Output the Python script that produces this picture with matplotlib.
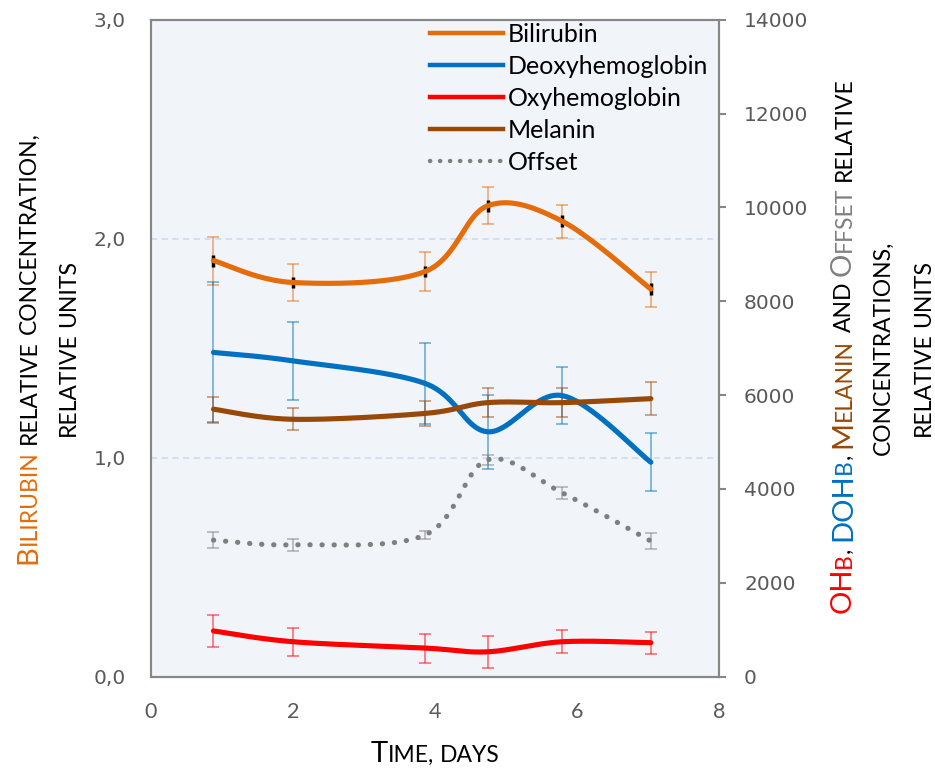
import numpy as np
import matplotlib
matplotlib.use('Agg')
import matplotlib.pyplot as plt
from matplotlib.lines import Line2D
from matplotlib.transforms import IdentityTransform
from matplotlib.ticker import FuncFormatter

# data
days = [0.88, 2.0, 3.86, 4.74, 5.79, 7.04]
bilirubin = [1.90, 1.80, 1.85, 2.15, 2.08, 1.77]
bilirubin_err = [0.11, 0.085, 0.087, 0.085, 0.075, 0.08]
bilirubin_mark = [0.027] * 6
deoxy = [6910, 6730, 6250, 5220, 5990, 4570]
deoxy_err = [1500, 830, 870, 790, 615, 620]
oxy = [975, 745, 610, 530, 745, 725]
oxy_err = [340, 295, 310, 340, 250, 235]
melanin = [5700, 5485, 5610, 5840, 5840, 5925]
melanin_err = [270, 235, 275, 305, 305, 350]
offset = [2910, 2810, 3020, 4620, 3920, 2890]
offset_err = [170, 130, 90, 100, 130, 170]

ORANGE = '#E46C0A'
BLUE = '#0070C0'
RED = '#FF0000'
BROWN = '#984807'
GRAY = '#7F7F7F'
FONT = 'Lato'
W, H = 935, 773
XLIM = (0, 8)
YL = (0, 3.0)
YR = (0, 14000)


def smooth(xs, ys, ylim, n=40):
    # excel style smoothed line (catmull-rom bezier in screen units)
    sx, sy = 568.0, 657.0
    p = np.column_stack([(np.array(xs) - XLIM[0]) / (XLIM[1] - XLIM[0]) * sx,
                         (np.array(ys) - ylim[0]) / (ylim[1] - ylim[0]) * sy])
    pts = np.vstack([p[0], p, p[-1]])
    t = np.linspace(0, 1, n)[:, None]
    out = []
    for i in range(1, len(pts) - 2):
        a, b = pts[i], pts[i + 1]
        c1 = a + (pts[i + 1] - pts[i - 1]) / 6
        c2 = b - (pts[i + 2] - pts[i]) / 6
        seg = (1 - t) ** 3 * a + 3 * (1 - t) ** 2 * t * c1 + 3 * (1 - t) * t ** 2 * c2 + t ** 3 * b
        out.append(seg if i == 1 else seg[1:])
    out = np.vstack(out)
    return (out[:, 0] / sx * (XLIM[1] - XLIM[0]) + XLIM[0],
            out[:, 1] / sy * (ylim[1] - ylim[0]) + ylim[0])


fig = plt.figure(figsize=(W / 100, H / 100), dpi=100)
ax = fig.add_axes([151 / W, 1 - 676.7 / H, 568 / W, 657 / H])
ax2 = ax.twinx()
ax.set_facecolor('#F1F4F9')
ax.set_zorder(1)
ax2.set_zorder(2)
ax2.patch.set_visible(False)

for g in [1.0, 2.0]:
    ax.axhline(g, color='#C6D9F0', lw=1.1, ls=(0, (4, 3)), zorder=0)

# bilirubin on the left axis
ax.errorbar(days, bilirubin, yerr=bilirubin_err, fmt='none', ecolor=ORANGE, alpha=0.5,
            elinewidth=1.3, capsize=4.5, capthick=1.3, zorder=2)
ax.errorbar(days, bilirubin, yerr=bilirubin_mark, fmt='none', ecolor='black',
            elinewidth=2.5, capsize=0, zorder=3)
bx, by = smooth(days, bilirubin, YL)
ax.plot(bx, by, color=ORANGE, lw=3.7, solid_capstyle='round', zorder=4)

# the rest on the right axis
right = [(deoxy, deoxy_err, BLUE), (oxy, oxy_err, RED),
         (melanin, melanin_err, BROWN), (offset, offset_err, GRAY)]
for vals, err, col in right:
    ax2.errorbar(days, vals, yerr=err, fmt='none', ecolor=col, alpha=0.5,
                 elinewidth=1.3, capsize=4.5, capthick=1.3, zorder=2)
for vals, err, col in right:
    sx_, sy_ = smooth(days, vals, YR)
    if col == GRAY:
        ax2.plot(sx_, sy_, color=col, lw=3.7, ls=(0, (0.05, 2.3)),
                 dash_capstyle='round', zorder=3)
    else:
        ax2.plot(sx_, sy_, color=col, lw=3.7, solid_capstyle='round', zorder=3)

ax.set_xlim(*XLIM)
ax.set_ylim(*YL)
ax2.set_ylim(*YR)
ax.set_xticks(range(0, 9, 2))
ax.set_yticks([0, 1, 2, 3])
ax2.set_yticks(range(0, 14001, 2000))
ax.yaxis.set_major_formatter(FuncFormatter(lambda v, p: f'{v:.1f}'.replace('.', ',')))

for a in (ax, ax2):
    for s in a.spines.values():
        s.set_color('#868686')
        s.set_linewidth(1.5)
ax.tick_params(axis='y', length=0, pad=18, labelsize=14.5, labelcolor='#595959')
ax.tick_params(axis='x', length=0, pad=18, labelsize=15.5, labelcolor='#595959')
ax2.tick_params(axis='y', length=5, width=1.5, color='#868686', pad=13,
                labelsize=14.5, labelcolor='#595959')
for lab in ax.get_xticklabels():
    lab.set_family(FONT)

handles = [Line2D([], [], color=ORANGE, lw=3.2),
           Line2D([], [], color=BLUE, lw=3.2),
           Line2D([], [], color=RED, lw=3.2),
           Line2D([], [], color=BROWN, lw=3.2),
           Line2D([], [], color=GRAY, lw=3.2, ls=(0, (0.05, 2.2)), dash_capstyle='round')]
names = ['Bilirubin', 'Deoxyhemoglobin', 'Oxyhemoglobin', 'Melanin', 'Offset']
ax2.legend(handles, names, loc='upper left', bbox_to_anchor=(430 / W, 1 - 23 / H),
           bbox_transform=fig.transFigure, frameon=False, borderpad=0, borderaxespad=0,
           handlelength=2.9, handletextpad=0.23, labelspacing=0.36,
           prop={'family': FONT, 'size': 18})

# small caps axis titles built from pieces
BIG, SM = 21, 16.5
renderer = fig.canvas.get_renderer()


def caps_text(pieces, cx, cy, rot):
    objs, lens = [], []
    for pc in pieces:
        if pc == ' ':
            objs.append(None)
            lens.append(SM * 0.27 * 100 / 72)
            continue
        s, size, col = pc
        t = fig.text(0, 0, s, fontsize=size, color=col, family=FONT, rotation=rot,
                     rotation_mode='anchor', ha='left', va='baseline',
                     transform=IdentityTransform())
        bb = t.get_window_extent(renderer)
        objs.append(t)
        lens.append(bb.width if rot == 0 else bb.height)
    pos = -sum(lens) / 2
    for t, L in zip(objs, lens):
        if t is not None:
            if rot == 0:
                t.set_position((cx + pos, H - cy))
            else:
                t.set_position((cx, H - cy + pos))
        pos += L


caps_text([('B', BIG, ORANGE), ('ILIRUBIN', SM, ORANGE), ' ', ('RELATIVE', SM, 'black'), ' ',
           ('CONCENTRATION,', SM, 'black')], 36, 348, 90)
caps_text([('RELATIVE', SM, 'black'), ' ', ('UNITS', SM, 'black')], 75, 348, 90)
caps_text([('OH', BIG, RED), ('B', SM, RED), (',', SM, 'black'), ' ',
           ('DOH', BIG, BLUE), ('B', SM, BLUE), (',', SM, 'black'), ' ',
           ('M', BIG, BROWN), ('ELANIN', SM, BROWN), ' ', ('AND', SM, 'black'), ' ',
           ('O', BIG, GRAY), ('FFSET', SM, GRAY), ' ', ('RELATIVE', SM, 'black')], 851, 345, 90)
caps_text([('CONCENTRATIONS,', SM, 'black')], 890, 348, 90)
caps_text([('RELATIVE', SM, 'black'), ' ', ('UNITS', SM, 'black')], 930, 348, 90)
caps_text([('T', BIG, 'black'), ('IME,', SM, 'black'), ' ', ('DAYS', SM, 'black')], 435, 762, 0)

fig.savefig('out.png', dpi=100)
